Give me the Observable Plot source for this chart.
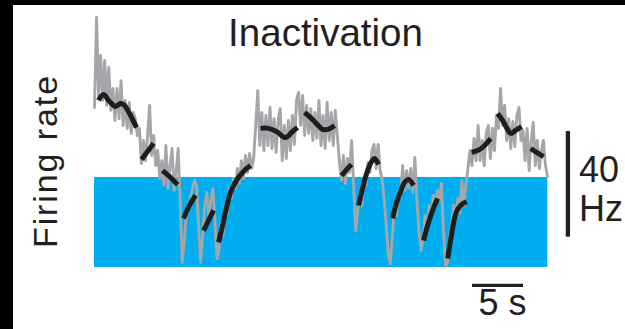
<!DOCTYPE html>
<html>
<head>
<meta charset="utf-8">
<script src="https://cdn.jsdelivr.net/npm/d3@7"></script>
<script src="https://cdn.jsdelivr.net/npm/@observablehq/plot@0.6"></script>
<style>
  html, body { margin: 0; padding: 0; background: #000; }
  #panel {
    position: absolute; left: 13px; top: 5px; width: 612px; height: 324px;
    background: #fff; overflow: hidden;
    font-family: "Liberation Sans", Arial, Helvetica, sans-serif; color: #231f20;
  }
  #chart { position: absolute; left: 0; top: 0; }
  .title {
    position: absolute; left: 312.5px; top: 8.7px; transform: translateX(-50%);
    font-size: 38.5px; line-height: 1; white-space: nowrap;
  }
  .ylabel {
    position: absolute; left: 15.2px; top: 242.7px; transform-origin: 0 0;
    transform: rotate(-90deg); font-size: 34px; line-height: 1;
    letter-spacing: 1.9px; white-space: nowrap;
  }
</style>
</head>
<body>
<div id="panel">
  <div id="chart"></div>
  <div class="title">Inactivation</div>
  <div class="ylabel">Firing rate</div>
</div>
<script>
// Firing rate (Hz), one sample every 0.2 s
const sampleInterval = 0.2;
const firingRate = [
  60.6, 94.7, 65.0, 80.3, 63.3, 78.4, 61.4, 75.8, 59.5, 67.8,
  55.7, 67.8, 56.4, 70.8, 53.8, 63.3, 52.7, 62.5, 50.8, 58.7,
  56.4, 50.0, 52.7, 39.4, 48.1, 40.5, 50.0, 61.4, 42.4, 50.0,
  38.6, 44.3, 33.7, 40.5, 31.1, 46.2, 29.9, 38.6, 45.1, 29.2,
  36.0, 45.1, 25.4, 1.9, 10.2, 19.7, 23.5, 26.1, 29.9, 33.0,
  31.1, 15.9, 1.9, 12.1, 23.5, 28.4, 19.7, 25.4, 29.9, 17.8,
  3.4, 6.4, 17.0, 12.1, 23.5, 19.7, 29.9, 26.1, 33.7, 29.9,
  37.5, 31.8, 40.5, 33.7, 42.4, 36.0, 43.2, 37.5, 41.3, 53.8,
  67.0, 46.2, 58.7, 44.3, 57.6, 46.2, 60.6, 45.1, 56.4, 43.6,
  55.7, 60.2, 40.5, 53.8, 41.3, 55.7, 44.3, 57.6, 46.6, 63.3,
  66.3, 53.8, 65.2, 50.0, 61.4, 50.8, 60.2, 48.1, 58.7, 48.9,
  63.3, 46.2, 57.6, 45.1, 62.5, 48.1, 58.7, 46.2, 59.5, 50.0,
  40.5, 33.0, 42.4, 31.8, 41.3, 36.0, 48.1, 31.1, 14.0, 21.6,
  27.3, 23.5, 33.7, 31.1, 39.8, 36.0, 44.3, 46.6, 37.5, 46.6,
  36.7, 33.0, 25.4, 15.9, 4.5, 1.5, 12.1, 23.5, 19.7, 29.2,
  26.5, 38.6, 29.2, 36.7, 29.9, 37.5, 28.4, 41.7, 25.4, 14.0,
  6.4, 10.2, 19.7, 13.3, 23.5, 19.7, 27.3, 22.7, 29.2, 25.4,
  31.8, 14.0, 0.4, 1.9, 12.1, 15.9, 23.5, 17.8, 26.1, 20.5,
  33.0, 23.5, 31.1, 37.5, 44.3, 38.6, 48.9, 40.5, 53.8, 40.5,
  48.1, 38.6, 51.1, 53.8, 41.3, 52.7, 44.3, 57.6, 52.7, 67.8,
  53.8, 61.4, 48.1, 56.4, 45.1, 55.3, 45.8, 57.6, 60.6, 48.1,
  51.9, 40.5, 52.7, 36.7, 48.1, 54.9, 38.6, 48.1, 37.5, 44.3,
  48.1, 38.6, 34.5
];

// Smoothed fit, drawn as separate pieces: [time (s), rate (Hz)]
const fitSegments = [
  [[0.39, 63.3], [0.88, 65.5], [1.47, 62.9], [2.06, 61.0], [2.55, 62.1], [2.94, 61.4], [3.43, 58.3], [4.12, 53.0]],
  [[4.61, 40.9], [5.20, 43.9], [5.78, 47.0]],
  [[6.67, 36.7], [7.45, 34.1], [8.14, 31.4]],
  [[8.73, 18.6], [9.31, 23.5], [9.90, 27.3]],
  [[10.69, 14.0], [11.18, 17.8], [11.67, 21.6]],
  [[12.16, 9.5], [12.55, 15.9], [12.94, 22.7], [13.33, 28.4], [13.92, 33.0], [14.51, 36.0], [15.29, 38.6]],
  [[16.27, 52.7], [17.06, 52.7], [17.84, 51.5], [18.73, 49.2], [19.41, 51.5], [19.90, 53.0]],
  [[20.59, 58.7], [21.18, 56.8], [21.76, 54.5], [22.35, 52.3], [22.84, 52.3], [23.53, 53.8]],
  [[24.22, 34.8], [24.71, 37.1], [25.20, 39.0]],
  [[25.88, 23.5], [26.27, 29.9], [26.67, 35.6], [27.06, 39.4], [27.45, 41.3], [27.84, 39.0]],
  [[29.22, 18.6], [29.61, 24.6], [30.00, 28.8], [30.39, 32.2], [30.78, 33.3], [31.27, 31.1]],
  [[32.25, 10.2], [32.65, 15.9], [33.14, 21.6], [33.63, 26.1]],
  [[34.61, 3.4], [34.90, 10.2], [35.20, 17.0], [35.49, 21.2], [35.88, 23.5], [36.47, 25.0]],
  [[36.96, 43.6], [37.55, 44.3], [38.04, 45.5], [38.43, 47.0], [38.82, 48.9]],
  [[39.51, 58.3], [40.00, 55.7], [40.39, 53.0], [40.78, 50.8], [41.27, 51.9], [41.86, 53.4]],
  [[42.75, 45.1], [43.33, 43.6], [44.02, 42.0]]
];

// Inactivation window (s) and the rate band it covers (Hz)
const inactivationWindow = [0, 44.43];
const inactivationBand = [0, 34.1];

// Scale bars: 5 s horizontal, 40 Hz vertical
const timeBar = {start: 37.05, length: 5, rate: -6.8, label: "5 s"};
const rateBar = {time: 46.4, start: 11.5, length: 40, label: "40\nHz"};

const trace = firingRate.map((r, i) => ({t: i * sampleInterval, r}));
const fit = fitSegments.flatMap((seg, k) => seg.map(([t, r]) => ({t, r, seg: k})));

const ink = "#231f20";

const chart = Plot.plot({
  width: 612,
  height: 324,
  marginLeft: 81,
  marginRight: 78,
  marginTop: 11.2,
  marginBottom: 9.2,
  x: {domain: [0, 44.4], axis: null},
  y: {domain: [-20, 95], axis: null},
  style: {background: "transparent", overflow: "visible",
          fontFamily: "'Liberation Sans', Arial, Helvetica, sans-serif"},
  marks: [
    Plot.rect([{}], {
      x1: () => inactivationWindow[0], x2: () => inactivationWindow[1],
      y1: () => inactivationBand[0], y2: () => inactivationBand[1],
      fill: "#00aeef"
    }),
    Plot.line(trace, {x: "t", y: "r", stroke: "#a4a6a9", strokeWidth: 2.9,
                      strokeLinejoin: "round", curve: "linear"}),
    Plot.line(fit, {x: "t", y: "r", z: "seg", stroke: "#1d1d1b", strokeWidth: 5,
                    strokeLinecap: "butt", strokeLinejoin: "round", curve: "catmull-rom"}),
    // 5 s bar and label
    Plot.ruleY([timeBar], {y: "rate", x1: "start", x2: d => d.start + d.length,
                           stroke: ink, strokeWidth: 3.3}),
    Plot.text([timeBar], {x: d => d.start + d.length / 2, y: "rate", text: "label",
                          fill: ink, fontSize: 36, lineAnchor: "top", dx: 4.5, dy: 4}),
    // 40 Hz bar and label
    Plot.ruleX([rateBar], {x: "time", y1: "start", y2: d => d.start + d.length,
                           stroke: ink, strokeWidth: 4.3}),
    Plot.text([rateBar], {x: "time", y: d => d.start + d.length / 2, text: "label",
                          fill: ink, fontSize: 36, lineHeight: 1.064, textAnchor: "start",
                          lineAnchor: "middle", dx: 11, dy: 5})
  ]
});

document.getElementById("chart").appendChild(chart);
</script>
</body>
</html>
